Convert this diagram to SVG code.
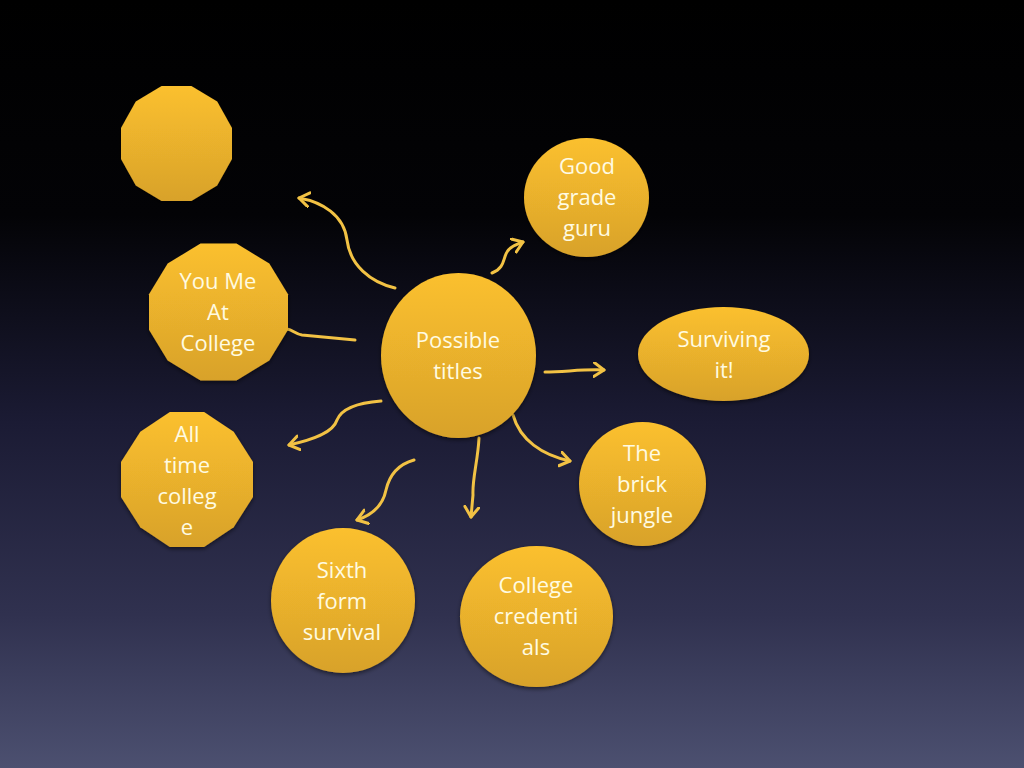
<svg xmlns="http://www.w3.org/2000/svg" width="1024" height="768" viewBox="0 0 1024 768">
<defs>
<linearGradient id="bg" x1="0" y1="0" x2="0" y2="1">
<stop offset="0" stop-color="#000000"/>
<stop offset="0.28" stop-color="#030306"/>
<stop offset="0.55" stop-color="#1b1b34"/>
<stop offset="0.8" stop-color="#30314f"/>
<stop offset="1" stop-color="#4c5070"/>
</linearGradient>
<linearGradient id="gold" x1="0" y1="0" x2="0" y2="1">
<stop offset="0" stop-color="#fbc02e"/>
<stop offset="1" stop-color="#d8a22b"/>
</linearGradient>
<filter id="sh" x="-20%" y="-20%" width="140%" height="140%">
<feDropShadow dx="0" dy="2" stdDeviation="2" flood-color="#000" flood-opacity="0.5"/>
</filter>
<marker id="arr" markerUnits="userSpaceOnUse" markerWidth="20" markerHeight="20" refX="11" refY="8" orient="auto">
<path d="M1,1 L11,8 L1,15" fill="none" stroke="#f2c244" stroke-width="3" stroke-linecap="round" stroke-linejoin="round"/>
</marker>
</defs>
<style>
.shape{fill:url(#gold);filter:url(#sh);}
.lbl{font-family:"Open Sans","Liberation Sans",sans-serif;font-size:22px;fill:#fffbe2;text-anchor:middle;}
.con{fill:none;stroke:#f2c244;stroke-width:3;stroke-linecap:round;}
</style>
<rect x="0" y="0" width="1024" height="768" fill="url(#bg)"/>

<g id="connectors">
<path class="con" marker-end="url(#arr)" d="M395,288 C370,282 350,265 347,240 C344,215 322,202 299,198"/>
<path class="con" d="M355,340 L302,335 C295,334 293,330 287,329"/>
<path class="con" marker-end="url(#arr)" d="M381,401 C355,403 341,410 337,420 C333,433 312,440 289,445"/>
<path class="con" marker-end="url(#arr)" d="M414,460 C396,465 389,477 386,490 C383,505 372,515 357,520"/>
<path class="con" marker-end="url(#arr)" d="M479,438 C478,460 472,480 473,495 L471,517"/>
<path class="con" marker-end="url(#arr)" d="M513,415 C520,440 542,455 570,461"/>
<path class="con" marker-end="url(#arr)" d="M545,372 C565,372 582,369 604,370"/>
<path class="con" marker-end="url(#arr)" d="M492,273 C505,268 503,258 507,252 C510,247 515,245 523,242"/>
</g>

<g id="node-empty">
<polygon class="shape" points="232,128.1 232,158.9 217.2,185.6 191.4,201 161.6,201 135.8,185.6 121,158.9 121,128.1 135.8,101.4 161.6,86 191.4,86 217.2,101.4"/>
</g>

<g id="node-youme">
<polygon class="shape" points="288,294.2 288,329.8 269.3,360.4 236.5,380.5 200.5,380.5 167.7,360.4 149,329.8 149,294.2 167.7,263.6 200.5,243.5 236.5,243.5 269.3,263.6"/>
<text class="lbl" x="218" y="289">You Me</text>
<text class="lbl" x="218" y="320">At</text>
<text class="lbl" x="218" y="351">College</text>
</g>

<g id="node-alltime">
<polygon class="shape" points="253,462 253,497 233.7,527.2 204.1,547 169.9,547 140.3,527.2 121,497 121,462 140.3,431.8 169.9,412 204.1,412 233.7,431.8"/>
<text class="lbl" x="187" y="442">All</text>
<text class="lbl" x="187" y="473">time</text>
<text class="lbl" x="187" y="504">colleg</text>
<text class="lbl" x="187" y="535">e</text>
</g>

<g id="node-center">
<ellipse class="shape" cx="458.5" cy="355.5" rx="77.5" ry="82.5"/>
<text class="lbl" x="458" y="348">Possible</text>
<text class="lbl" x="458" y="379">titles</text>
</g>

<g id="node-goodgrade">
<ellipse class="shape" cx="586.5" cy="197.5" rx="62.5" ry="59.5"/>
<text class="lbl" x="587" y="174">Good</text>
<text class="lbl" x="587" y="205">grade</text>
<text class="lbl" x="587" y="236">guru</text>
</g>

<g id="node-surviving">
<ellipse class="shape" cx="723.5" cy="354" rx="85.5" ry="47"/>
<text class="lbl" x="724" y="347">Surviving</text>
<text class="lbl" x="724" y="378">it!</text>
</g>

<g id="node-brick">
<ellipse class="shape" cx="642.5" cy="484" rx="63.5" ry="62"/>
<text class="lbl" x="642" y="461">The</text>
<text class="lbl" x="642" y="492">brick</text>
<text class="lbl" x="642" y="523">jungle</text>
</g>

<g id="node-credentials">
<ellipse class="shape" cx="536.5" cy="616.5" rx="76.5" ry="70.5"/>
<text class="lbl" x="536" y="593">College</text>
<text class="lbl" x="536" y="624">credenti</text>
<text class="lbl" x="536" y="655">als</text>
</g>

<g id="node-sixth">
<ellipse class="shape" cx="343" cy="600.5" rx="72" ry="72.5"/>
<text class="lbl" x="342" y="578">Sixth</text>
<text class="lbl" x="342" y="609">form</text>
<text class="lbl" x="342" y="640">survival</text>
</g>
</svg>
